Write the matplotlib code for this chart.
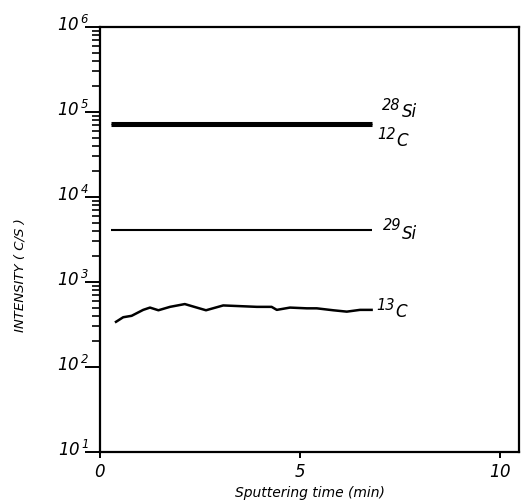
import numpy as np
import matplotlib
matplotlib.use("Agg")
import matplotlib.pyplot as plt
from matplotlib.transforms import ScaledTranslation

plt.rcParams["font.family"] = ["DejaVu Sans"]
plt.rcParams["mathtext.fontset"] = "custom"
plt.rcParams["mathtext.rm"] = "DejaVu Sans:italic"
plt.rcParams["mathtext.it"] = "DejaVu Sans:italic"

# flat signals (c/s) over the sputtering run
t_flat = [0.28, 6.8]
si28 = [7.5e4, 7.5e4]
c12 = [7.0e4, 7.0e4]
si29 = [4.1e3, 4.1e3]

# 13C trace
t_c13 = [0.4, 0.58, 0.79, 1.08, 1.25, 1.46, 1.75, 2.12, 2.42, 2.65, 3.08,
         3.5, 3.92, 4.29, 4.42, 4.75, 5.17, 5.42, 5.83, 6.17, 6.5, 6.79]
c13 = [340, 385, 400, 470, 500, 465, 510, 550, 500, 465, 530,
       520, 510, 510, 470, 500, 490, 490, 465, 448, 470, 470]

x_ticks = [0, 5, 10]
y_ticks = [1e1, 1e2, 1e3, 1e4, 1e5, 1e6]
y_tick_labels = [r"$10^{\,%d}$" % e for e in range(1, 7)]

fig = plt.figure(figsize=(5.22, 5.02), dpi=100)
ax = fig.add_axes([100 / 522, 1 - 453 / 502, 419 / 522, 425 / 502])

ax.plot(t_flat, si28, color="black", lw=2.2, solid_capstyle="butt")
ax.plot(t_flat, c12, color="black", lw=2.2, solid_capstyle="butt")
ax.plot(t_flat, si29, color="black", lw=1.5, solid_capstyle="butt")
ax.plot(t_c13, c13, color="black", lw=1.8)

ax.set_yscale("log")
ax.set_xlim(0, 10.475)
ax.set_ylim(1e1, 1e6)

ax.set_xticks(x_ticks)
ax.set_xticklabels([r"$%d$" % v for v in x_ticks])
ax.set_yticks(y_ticks)
ax.set_yticklabels(y_tick_labels)
minor = [k * 10.0 ** e for e in range(2, 6) for k in range(2, 10)]
ax.set_yticks(minor, minor=True)
ax.yaxis.set_minor_formatter(plt.NullFormatter())
ax.xaxis.set_minor_locator(plt.NullLocator())

ax.tick_params(axis="y", which="major", direction="out", length=11, width=1.4,
               labelsize=12, pad=-3)
ax.tick_params(axis="y", which="minor", direction="out", length=6, width=1.2)
ax.tick_params(axis="x", which="major", direction="out", length=4, width=1.4,
               labelsize=12, pad=3)

for lab in ax.get_yticklabels():
    lab.set_transform(lab.get_transform() + ScaledTranslation(0, 0.05, fig.dpi_scale_trans))

for s in ax.spines.values():
    s.set_linewidth(1.6)

ax.set_xlabel("Sputtering time (min)", fontsize=10, style="italic", labelpad=4)
fig.text(20 / 522, 1 - 275 / 502, "INTENSITY ( C/S )", rotation=90,
         fontsize=9.5, style="italic", ha="center", va="center")


def iso_label(x, y, mass, elem, dm, de):
    ax.annotate(mass, xy=(x, y), xytext=dm, textcoords="offset pixels",
                fontsize=10.5, style="italic", ha="left", va="center")
    ax.annotate(elem, xy=(x, y), xytext=de, textcoords="offset pixels",
                fontsize=12, style="italic", ha="left", va="center")


iso_label(t_flat[-1], si28[-1], "28", "Si", (10, 18), (30, 12))
iso_label(t_flat[-1], c12[-1], "12", "C", (5, -8), (24, -15))
iso_label(t_flat[-1], si29[-1], "29", "Si", (11, 5), (30, -3))
iso_label(t_c13[-1], c13[-1], "13", "C", (5, 5), (24, -1))

fig.savefig("out.png", dpi=100)
